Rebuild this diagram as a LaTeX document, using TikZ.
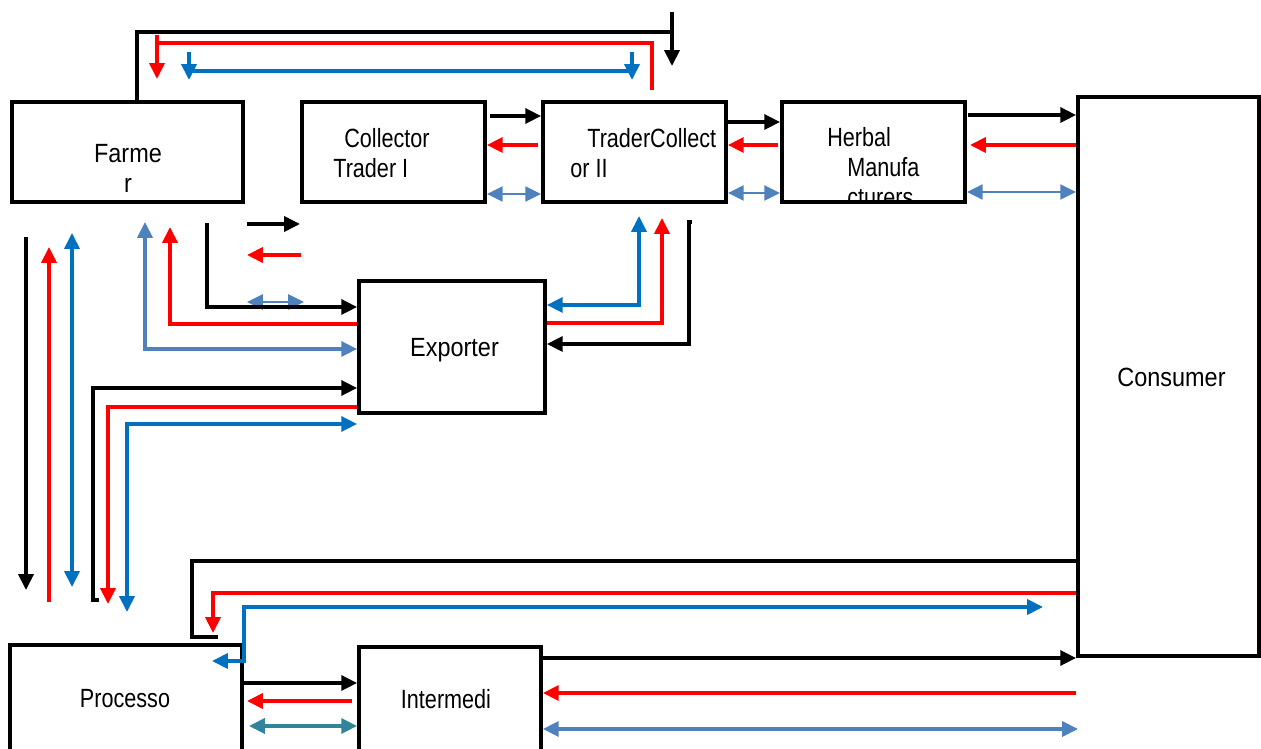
\documentclass[tikz,border=0pt]{standalone}
\usepackage{fontspec}
\setmainfont{Liberation Sans}
\newfontfamily\fA[FakeStretch=0.89]{Liberation Sans}
\newfontfamily\fB[FakeStretch=0.82]{Liberation Sans}
\usetikzlibrary{arrows.meta}
\definecolor{cred}{HTML}{FF0000}
\definecolor{cblue}{HTML}{0070C0}
\definecolor{csteel}{HTML}{4F81BD}
\definecolor{cteal}{HTML}{31849B}
\begin{document}
\begin{tikzpicture}[x=0.02cm,y=-0.02cm,
  >={Triangle[length=9pt,width=8.5pt]},
  box/.style={draw, line width=2.2pt, inner sep=0pt, rectangle},
  tA/.style={inner sep=0pt, font=\fA\fontsize{15}{17}\selectfont},
  tB/.style={inner sep=0pt, font=\fB\fontsize{15}{17}\selectfont},
  blk/.style={line width=2pt, draw=black},
  rd/.style={line width=2pt, draw=cred},
  bl/.style={line width=2pt, draw=cblue},
  sb/.style={line width=2pt, draw=csteel},
  sbt/.style={line width=1.3pt, draw=csteel},
  tl/.style={line width=2pt, draw=cteal}]
\clip (0,0) rectangle (1261,749);
\fill[white] (0,0) rectangle (1261,749);

% boxes
\node[box, minimum width=4.62cm, minimum height=2cm] (farmer) at (127.5,152) {};
\node[box, minimum width=3.66cm, minimum height=2cm] (coll) at (393.5,152) {};
\node[box, minimum width=3.66cm, minimum height=2cm] (trader2) at (634.5,152) {};
\node[box, minimum width=3.66cm, minimum height=2cm] (herbal) at (873.5,152) {};
\node[box, minimum width=3.62cm, minimum height=11.18cm] (consumer) at (1168.5,376.5) {};
\node[box, minimum width=3.72cm, minimum height=2.64cm] (exporter) at (452,347) {};
\node[box, minimum width=4.64cm, minimum height=2.12cm] (processor) at (126,698) {};
\node[box, minimum width=3.64cm, minimum height=2.12cm] (intermed) at (450,700) {};

% texts
\node[tA, anchor=base] (farmerT1) at (128,163) {Farme};
\node[tA, anchor=base] (farmerT2) at (128,193) {r};
\node[tB, anchor=base west] (collT1) at (344,148) {Collector};
\node[tB, anchor=base west] (collT2) at (333,178) {Trader I};
\node[tB, anchor=base west] (trT1) at (587,148) {TraderCollect};
\node[tB, anchor=base west] (trT2) at (570,178) {or II};
\node[tB, anchor=base west] (hbT1) at (827,147) {Herbal};
\node[tB, anchor=base west] (hbT2) at (847,177) {Manufa};
\begin{scope}
\clip (herbal.south west) rectangle (herbal.north east);
\node[tB, anchor=base west] (hbT3) at (847,207) {cturers};
\end{scope}
\node[tA, anchor=base] (expT) at (454.5,357) {Exporter};
\node[tA, anchor=base] (conT) at (1171.5,387) {Consumer};
\node[tB, anchor=base] (proT) at (125,707) {Processo};
\node[tB, anchor=base] (intT) at (446,708) {Intermedi};

% top loop
\coordinate (kTop) at (672,12);
\coordinate (kTopEnd) at (672,66);
\draw[blk] (farmer.north -| 137,0) |- (kTop |- 0,32);
\draw[blk,->] (kTop) -- (kTopEnd);
\coordinate (rTopR) at (652,90);
\coordinate (rTopL) at (157,35);
\coordinate (rTopTip) at (157,79);
\draw[rd] (rTopR) |- (rTopL |- 0,43);
\draw[rd,->] (rTopL) -- (rTopTip);
\coordinate (bTopL) at (189,52);
\coordinate (bTopLtip) at (189,80);
\coordinate (bTopR) at (632,52);
\coordinate (bTopRtip) at (632,80);
\draw[bl] (bTopL |- 0,71) -- (bTopR |- 0,71);
\draw[bl,->] (bTopL) -- (bTopLtip);
\draw[bl,->] (bTopR) -- (bTopRtip);

% farmer - exporter area
\coordinate (kS1) at (247,224);
\coordinate (kS2) at (300,224);
\draw[blk,->] (kS1) -- (kS2);
\coordinate (rS1) at (301,255);
\coordinate (rS2) at (247,255);
\draw[rd,->] (rS1) -- (rS2);
\coordinate (sS1) at (247,302);
\coordinate (sS2) at (304,302);
\draw[sbt,<->] (sS1) -- (sS2);
\coordinate (kF) at (207,223);
\draw[blk,->] (kF) |- (exporter.west |- 0,307);
\coordinate (rF) at (170,227);
\draw[rd,->] (exporter.west |- 0,324) -| (rF);
\coordinate (sF) at (145,222);
\draw[sb,<->] (sF) |- (exporter.west |- 0,349);
\coordinate (kP) at (99,600);
\draw[blk,->] (kP) -- (93,600) |- (exporter.west |- 0,388);
\coordinate (rP) at (108,604);
\draw[rd,->] (exporter.west |- 0,407) -| (rP);
\coordinate (bP) at (127,612);
\draw[bl,<->] (bP) |- (exporter.west |- 0,424);

% left verticals
\coordinate (kV1) at (26,237);
\coordinate (kV2) at (26,590);
\draw[blk,->] (kV1) -- (kV2);
\coordinate (rV1) at (49,602);
\coordinate (rV2) at (49,247);
\draw[rd,->] (rV1) -- (rV2);
\coordinate (bV1) at (72,233);
\coordinate (bV2) at (72,587);
\draw[bl,<->] (bV1) -- (bV2);

% trader II - exporter
\coordinate (bT) at (639,216);
\draw[bl,<->] (bT) |- (exporter.east |- 0,305);
\coordinate (rT) at (662,218);
\draw[rd,->] (exporter.east |- 0,323) -| (rT);
\coordinate (kT) at (692,222);
\draw[blk,->] (kT) -- (689,222) |- (exporter.east |- 0,344);

% top row
\coordinate (k1) at (490,116);
\draw[blk,->] (k1) -- (trader2.west |- k1);
\coordinate (r1) at (538,145);
\draw[rd,->] (r1) -- (coll.east |- r1);
\draw[sbt,<->] (coll.east |- 0,194) -- (trader2.west |- 0,194);
\draw[blk,->] (trader2.east |- 0,122) -- (herbal.west |- 0,122);
\coordinate (r2) at (778,145);
\draw[rd,->] (r2) -- (trader2.east |- r2);
\draw[sbt,<->] (trader2.east |- 0,193) -- (herbal.west |- 0,193);
\coordinate (k3) at (968,115);
\draw[blk,->] (k3) -- (consumer.west |- k3);
\coordinate (r3) at (970,145);
\draw[rd,->] (consumer.west |- r3) -- (r3);
\draw[sbt,<->] (herbal.east |- 0,192) -- (consumer.west |- 0,192);

% bottom
\coordinate (kB) at (218,637);
\draw[blk] (consumer.west |- 0,561) -| (192,637) -- (kB);
\coordinate (rB) at (213,633);
\draw[rd,->] (consumer.west |- 0,593) -| (rB);
\coordinate (bB1) at (1043,607);
\coordinate (bB2) at (212,661);
\draw[bl,<->] (bB1) -- (processor.east |- bB1) |- (bB2);
\draw[blk,->] (processor.east |- 0,683) -- (intermed.west |- 0,683);
\coordinate (rI) at (352,701);
\coordinate (rItip) at (247,701);
\draw[rd,->] (rI) -- (rItip);
\coordinate (tI) at (249,726);
\draw[tl,<->] (tI) -- (intermed.west |- tI);
\draw[blk,->] (intermed.east |- 0,658) -- (consumer.west |- 0,658);
\coordinate (rC) at (1076,693);
\draw[rd,->] (rC) -- (intermed.east |- rC);
\coordinate (sC) at (1078,729);
\draw[sb,<->] (intermed.east |- sC) -- (sC);
\end{tikzpicture}
\end{document}
